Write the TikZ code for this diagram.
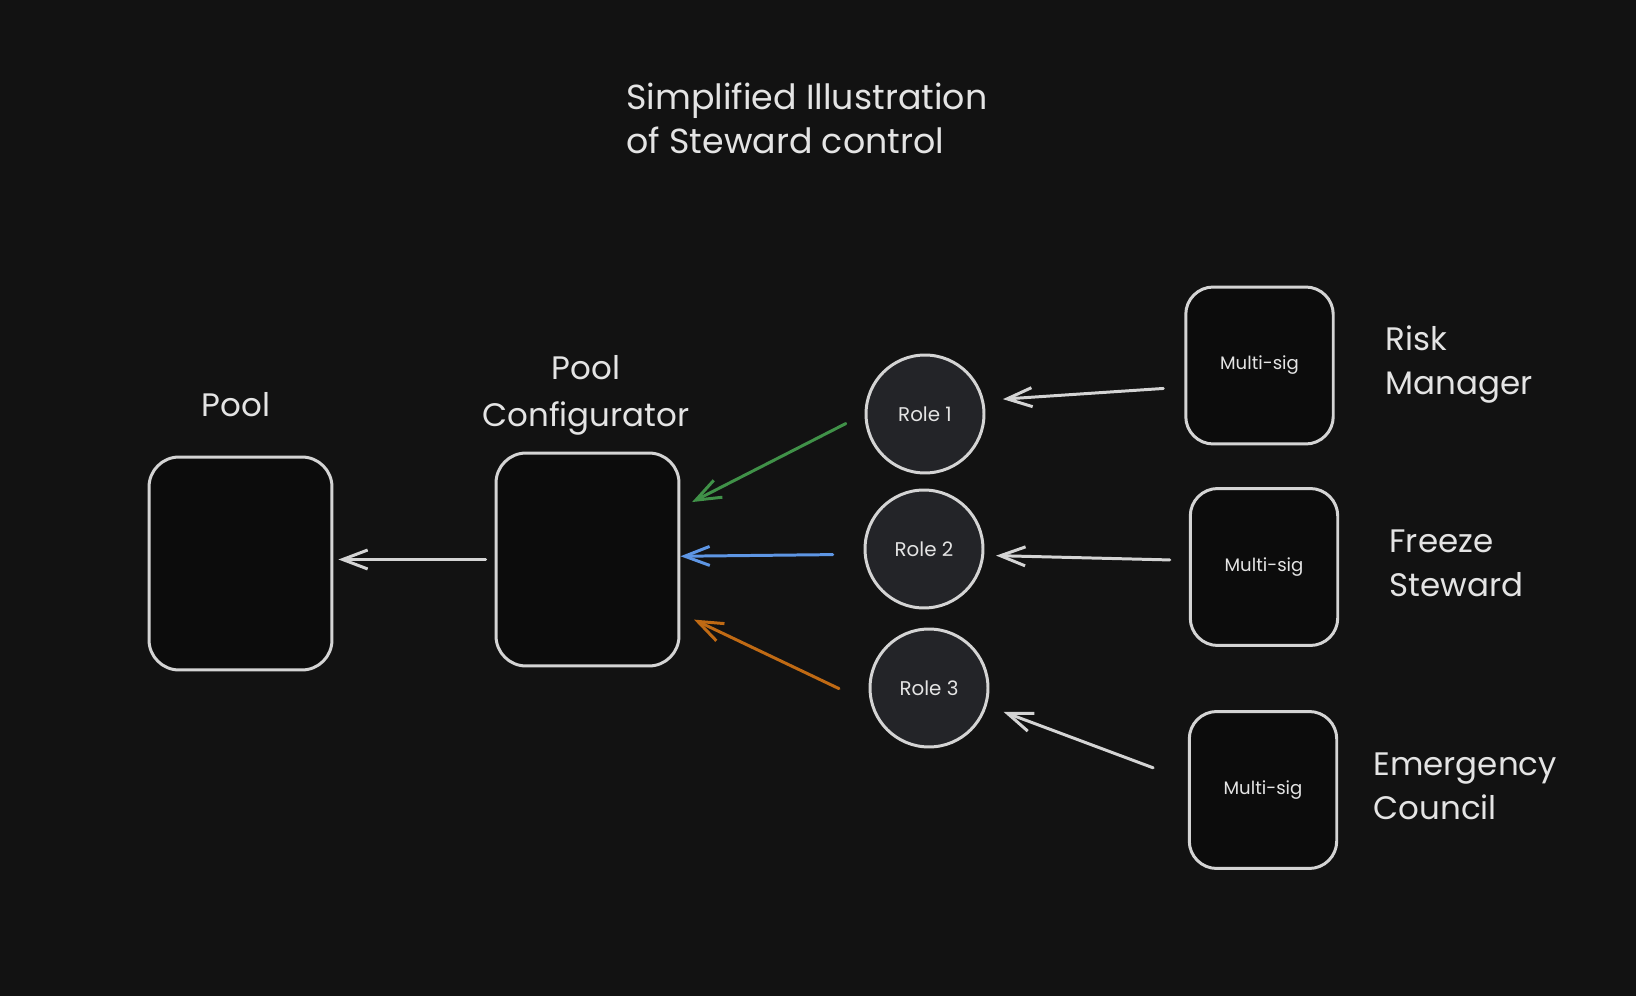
\documentclass[tikz,border=0pt]{standalone}
\usepackage{fontspec}
\setmainfont{Poppins}
\usetikzlibrary{arrows.meta,positioning}
\definecolor{bgdark}{HTML}{121212}
\definecolor{boxfill}{HTML}{0C0C0C}
\definecolor{rolefill}{HTML}{232428}
\definecolor{strokegray}{HTML}{D4D4D4}
\definecolor{textwhite}{HTML}{E4E4E4}
\definecolor{rolegreen}{RGB}{64,145,72}
\definecolor{roleblue}{RGB}{94,150,228}
\definecolor{roleorange}{RGB}{192,106,20}

\begin{document}
\begin{tikzpicture}[x=0.02cm, y=-0.02cm, line width=1.7pt,
  every node/.style={text=textwhite},
  ctrbox/.style={draw=strokegray, fill=boxfill, rounded corners=0.6cm, minimum width=3.66cm, minimum height=4.26cm},
  msbox/.style={draw=strokegray, fill=boxfill, rounded corners=0.55cm, minimum width=2.95cm, minimum height=3.14cm, font=\fontsize{10.3}{12}\selectfont},
  rolenode/.style={draw=strokegray, fill=rolefill, circle, minimum size=2.36cm, font=\fontsize{11.3}{13}\selectfont},
  biglbl/.style={inner sep=0pt, align=left, font=\fontsize{18.5}{25}\selectfont},
  arr/.style={-{Straight Barb[length=0.5cm, width=0.38cm]}, line cap=round, draw=strokegray}]
  \fill[bgdark] (0,0) rectangle (1636,996);
  \useasboundingbox (0,0) rectangle (1636,996);

  \node[biglbl, anchor=north west, font=\fontsize{19.8}{25.5}\selectfont] (title) at (625,81) {Simplified Illustration\\of Steward control};

  \node[ctrbox] (pool) at (240.5,563.5) {};
  \node[biglbl] (poollbl) at (236,405) {Pool};
  \node[ctrbox] (cfg) at (587.5,559.5) {};
  \node[biglbl, anchor=north, align=center, font=\fontsize{18.5}{26.5}\selectfont] (cfglbl) at (586,354) {Pool\\Configurator};

  \node[rolenode] (r1) at (925,414) {Role 1};
  \node[rolenode] (r2) at (924,549) {Role 2};
  \node[rolenode] (r3) at (929,688) {Role 3};

  \node[msbox] (ms1) at (1259.5,365.5) {Multi-sig};
  \node[msbox] (ms2) at (1264,567) {Multi-sig};
  \node[msbox] (ms3) at (1263,790) {Multi-sig};
  \node[biglbl, anchor=north west] (risklbl) at (1384,324) {Risk\\Manager};
  \node[biglbl, anchor=north west] (freezelbl) at (1388,528) {Freeze\\Steward};
  \node[biglbl, anchor=north west] (emerglbl) at (1372,751) {Emergency\\Council};

  % arrows
  \draw[arr, shorten <=0.18cm, shorten >=0.1cm] (cfg.west) -- (cfg.west -| pool.east);
  \draw[arr, draw=rolegreen, shorten <=0.42cm, shorten >=0.26cm] (r1.west) -- (cfg.29);
  \draw[arr, draw=roleblue, shorten <=0.62cm] (r2.185) -- (cfg.2);
  \draw[arr, draw=roleorange, shorten <=0.7cm, shorten >=0.3cm] (r3.195) -- (cfg.-30);
  \draw[arr, shorten <=0.42cm, shorten >=0.38cm] (ms1.196) -- (r1.13);
  \draw[arr, shorten <=0.38cm, shorten >=0.24cm] (ms2.175) -- (r2.-6);
  \draw[arr, shorten <=0.74cm, shorten >=0.36cm] (ms3.173) -- (r3.-17);
\end{tikzpicture}
\end{document}
